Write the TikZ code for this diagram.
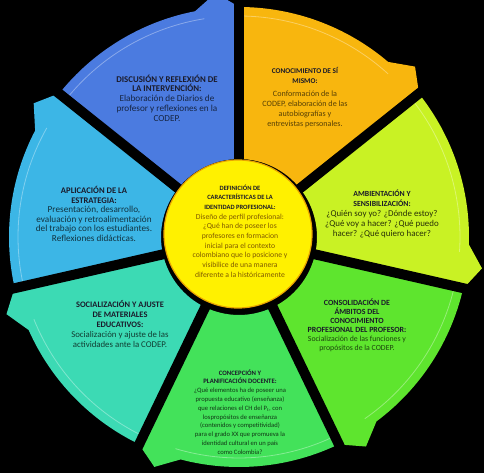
\documentclass[tikz,border=0pt]{standalone}
\usepackage{fontspec}
\setmainfont{Carlito}
\definecolor{cblue}{HTML}{4B7BE0}
\definecolor{corange}{HTML}{F8B60E}
\definecolor{clime}{HTML}{C9F224}
\definecolor{cgreen}{HTML}{5EE52E}
\definecolor{cgreenb}{HTML}{43E25A}
\definecolor{cteal}{HTML}{3CDAB4}
\definecolor{ccyan}{HTML}{3CB6E6}
\definecolor{cyel}{HTML}{FFF100}
\definecolor{crim}{HTML}{E9A400}
\definecolor{hdcol}{HTML}{1A1A2A}
\newcommand\hd[1]{{\bfseries\color{hdcol}#1}}
\begin{document}
\begin{tikzpicture}[x=1pt,y=1pt,
  lbl/.style={align=center, inner sep=0pt},
  gapline/.style={black, line width=10pt},
  bevel/.style={white, opacity=.35, line width=.8pt}]
\fill[black] (-239,-236) rectangle (245,237);
\useasboundingbox (-239,-236) rectangle (245,237);
\def\R{230}
\def\ri{78}
\foreach \k/\col in {0/cblue,1/corange,2/clime,3/cgreen,4/cgreenb,5/cteal,6/ccyan}{
  \pgfmathsetmacro\ts{141.4286-51.4286*\k}
  \pgfmathsetmacro\te{\ts-51.4286}
  \pgfmathsetmacro\tb{\te+11}
  \pgfmathsetmacro\tt{\te+5.5}
  \pgfmathsetmacro\tg{\te-1}
  \pgfmathsetmacro\Rt{\R+15}
  \pgfmathsetmacro\Rb{\R-2}
  \pgfmathsetmacro\Rv{\R-9}
  \pgfmathsetmacro\tsv{\ts-1}
  \pgfmathsetmacro\tev{\te+9}
  \fill[\col] (\ts:\ri pt) -- (\ts:\R pt)
     arc[start angle=\ts, end angle=\tb, radius=\R pt]
     -- (\tt:\Rt pt) -- (\tg:\Rb pt) -- (\tg:\ri pt)
     arc[start angle=\tg, end angle=\ts, radius=\ri pt] -- cycle;
  \draw[bevel] (\tsv:\Rv pt) arc[start angle=\tsv, end angle=\tev, radius=\Rv pt];
}
\foreach \a in {0,...,6}{
  \pgfmathsetmacro\ga{90-51.4286*\a}
  \draw[gapline] (0,0) -- (\ga:262pt);
}
\node[circle, fill=cyel, draw=crim, line width=1.2pt, minimum size=148pt, inner sep=0pt] (core) at (-1,3) {};
\node[lbl, text=black!45!crim, font=\fontsize{7.7}{9.7}\selectfont] (coretext) at (1,6)
 {\hd{\fontsize{6.5}{9}\selectfont DEFINICIÓN DE}\\
  \hd{\fontsize{6.5}{9}\selectfont CARACTERÍSTICAS DE LA}\\
  \hd{\fontsize{6.5}{9}\selectfont IDENTIDAD PROFESIONAL:}\\
  Diseño de perfil profesional:\\
  ¿Qué han de poseer los\\
  profesores en formacion\\
  inicial para el contexto\\
  colombiano que lo posicione y\\
  visibilice de una manera\\
  diferente a la históricamente};
\node[lbl, text=black!70!cblue, font=\fontsize{9.2}{9.8}\selectfont] (disc) at (-72,139)
 {\hd{\fontsize{8.8}{9.8}\selectfont DISCUSIÓN Y REFLEXIÓN DE}\\
  \hd{\fontsize{8.8}{9.8}\selectfont LA INTERVENCIÓN:}\\
  Elaboración de Diarios de\\
  profesor y reflexiones en la\\
  CODEP.};
\node[lbl, text=black!65!corange, font=\fontsize{8.1}{10}\selectfont] (cono) at (66,139)
 {\hd{\fontsize{7.3}{10}\selectfont CONOCIMIENTO DE SÍ}\\
  \hd{\fontsize{7.3}{10}\selectfont MISMO:}\\[3pt]
  Conformación de la\\
  CODEP, elaboración de las\\
  autobiografías y\\
  entrevistas personales.};
\node[lbl, text=black!80!clime, font=\fontsize{8.9}{10}\selectfont] (amb) at (143,23)
 {\hd{\fontsize{7.8}{9.5}\selectfont AMBIENTACIÓN Y}\\
  \hd{\fontsize{7.8}{9.5}\selectfont SENSIBILIZACIÓN:}\\
  ¿Quién soy yo? ¿Dónde estoy?\\
  ¿Qué voy a hacer? ¿Qué puedo\\
  hacer? ¿Qué quiero hacer?};
\node[lbl, text=black!70!cgreen, font=\fontsize{7.8}{9}\selectfont] (cons) at (118,-88)
 {\hd{\fontsize{7.9}{8.8}\selectfont CONSOLIDACIÓN DE}\\
  \hd{\fontsize{7.9}{8.8}\selectfont ÁMBITOS DEL}\\
  \hd{\fontsize{7.9}{8.8}\selectfont CONOCIMIENTO}\\
  \hd{\fontsize{7.9}{8.8}\selectfont PROFESIONAL DEL PROFESOR:}\\
  Socialización de las funciones y\\
  propósitos de la CODEP.};
\node[lbl, text=black!75!cgreenb, font=\fontsize{6.6}{8.8}\selectfont] (conc) at (1,-175)
 {\hd{\fontsize{6.7}{8}\selectfont CONCEPCIÓN Y}\\
  \hd{\fontsize{6.7}{8}\selectfont PLANIFICACIÓN DOCENTE:}\\
  ¿Qué elementos ha de poseer una\\
  propuesta educativo (enseñanza)\\
  que relaciones el CH del P\textsubscript{t}, con\\
  lospropósitos de enseñanza\\
  (contenidos y competitividad)\\
  para el grado XX que promueva la\\
  identidad cultural en un país\\
  como Colombia?};
\node[lbl, text=black!72!cteal, font=\fontsize{8.8}{9.8}\selectfont] (soc) at (-119,-87)
 {\hd{\fontsize{8.4}{9.8}\selectfont SOCIALIZACIÓN Y AJUSTE}\\
  \hd{\fontsize{8.4}{9.8}\selectfont DE MATERIALES}\\
  \hd{\fontsize{8.4}{9.8}\selectfont EDUCATIVOS:}\\
  Socialización y ajuste de las\\
  actividades ante la CODEP.};
\node[lbl, text=black!72!ccyan, font=\fontsize{9.2}{9.6}\selectfont] (apl) at (-145,23)
 {\hd{\fontsize{8.6}{9.2}\selectfont APLICACIÓN DE LA}\\
  \hd{\fontsize{8.6}{9.2}\selectfont ESTRATEGIA:}\\
  Presentación, desarrollo,\\
  evaluación y retroalimentación\\
  del trabajo con los estudiantes.\\
  Reflexiones didácticas.};
\end{tikzpicture}
\end{document}
